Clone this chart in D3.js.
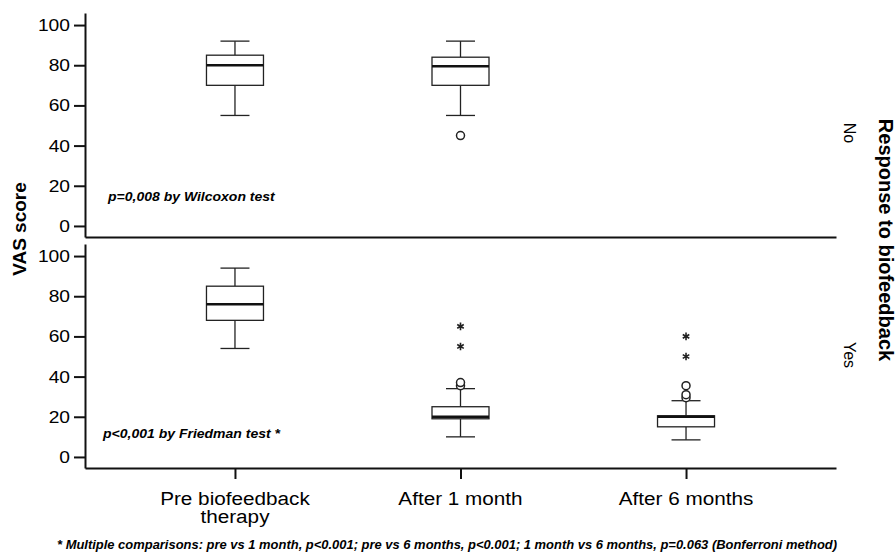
<!DOCTYPE html>
<html>
<head>
<meta charset="utf-8">
<script src="https://cdn.jsdelivr.net/npm/d3@7"></script>
<style>
  body { margin: 0; background: #fff; }
  text { font-family: "Liberation Sans", Arial, sans-serif; fill: #000; }
</style>
</head>
<body>
<svg id="chart" width="896" height="554"></svg>
<script>
const categories = ["pre", "1m", "6m"];
const categoryLabels = [["Pre biofeedback", "therapy"], ["After 1 month"], ["After 6 months"]];
const responses = ["No", "Yes"];
const yTicks = [0, 20, 40, 60, 80, 100];

// [min, q1, median, q3, max] for each time point
const boxesNo = [[55, 70, 80, 85, 92], [55, 70, 79.5, 84, 92]];
const boxesYes = [[54, 68, 76, 85, 94], [10, 19, 20, 25, 34], [8.5, 15, 20, 20.5, 28]];
const outliersNo = [[], [45]];
const outliersYes = [[], [35.5, 37], [29.5, 31, 35.5]];
const extremesNo = [[], []];
const extremesYes = [[], [55, 65], [50, 60]];

const pTexts = ["p=0,008 by Wilcoxon test", "p<0,001 by Friedman test *"];
const footnote = "* Multiple comparisons: pre vs 1 month, p<0.001; pre vs 6 months, p<0.001; 1 month vs 6 months, p=0.063 (Bonferroni method)";

const panels = [
  { boxes: boxesNo, outliers: outliersNo, extremes: extremesNo, top: 13 },
  { boxes: boxesYes, outliers: outliersYes, extremes: extremesYes, top: 244 },
];

const left = 85;
const right = 836;
const panelHeight = 224;
const boxWidth = 57;
const capWidth = 29;

const svg = d3.select("#chart");

// horizontal text in the source is drawn wider than the font's natural width
function stretch(sel, k) {
  sel.each(function () {
    const w = this.getComputedTextLength();
    this.setAttribute("textLength", w * k);
    this.setAttribute("lengthAdjust", "spacingAndGlyphs");
  });
}

const x = d3.scalePoint().domain(categories).range([left, right]).padding(0.665);

panels.forEach((p, pi) => {
  const y = d3.scaleLinear().domain([-5.5, 106]).range([p.top + panelHeight, p.top]);
  const bottom = p.top + panelHeight;
  const isLast = pi === panels.length - 1;

  // y axis
  const yAxisG = svg
    .append("g")
    .attr("transform", `translate(${left},0)`)
    .call(d3.axisLeft(y).tickValues(yTicks).tickSize(11).tickSizeOuter(0).tickPadding(4));
  yAxisG.selectAll("path, line").attr("stroke", "#111").attr("stroke-width", 2);
  yAxisG.selectAll("text").style("font-size", "17px").attr("fill", "#000");
  stretch(yAxisG.selectAll("text"), 1.13);

  // x axis (ticks only on the bottom panel)
  const xAxisG = svg
    .append("g")
    .attr("transform", `translate(0,${bottom})`)
    .call(d3.axisBottom(x).tickSize(isLast ? 11 : 0).tickSizeOuter(0).tickFormat(""));
  xAxisG.selectAll("path, line").attr("stroke", "#111").attr("stroke-width", 2);

  // boxes
  p.boxes.forEach((b, i) => {
    const cx = x(categories[i]);
    const [mn, q1, med, q3, mx] = b;
    const g = svg.append("g").attr("stroke", "#222").attr("stroke-width", 1.3).attr("fill", "none");
    g.append("line").attr("x1", cx).attr("x2", cx).attr("y1", y(mx)).attr("y2", y(q3));
    g.append("line").attr("x1", cx).attr("x2", cx).attr("y1", y(q1)).attr("y2", y(mn));
    g.append("line").attr("x1", cx - capWidth / 2).attr("x2", cx + capWidth / 2).attr("y1", y(mx)).attr("y2", y(mx));
    g.append("line").attr("x1", cx - capWidth / 2).attr("x2", cx + capWidth / 2).attr("y1", y(mn)).attr("y2", y(mn));
    g.append("rect")
      .attr("x", cx - boxWidth / 2)
      .attr("y", y(q3))
      .attr("width", boxWidth)
      .attr("height", y(q1) - y(q3))
      .attr("fill", "#fff");
    g.append("line")
      .attr("x1", cx - boxWidth / 2)
      .attr("x2", cx + boxWidth / 2)
      .attr("y1", y(med))
      .attr("y2", y(med))
      .attr("stroke", "#111")
      .attr("stroke-width", 2.5);

    p.outliers[i].forEach((v) => {
      svg.append("circle")
        .attr("cx", cx)
        .attr("cy", y(v))
        .attr("r", 4)
        .attr("fill", "#fff")
        .attr("stroke", "#222")
        .attr("stroke-width", 1.5);
    });

    p.extremes[i].forEach((v) => {
      svg.append("path")
        .attr("transform", `translate(${cx},${y(v)})`)
        .attr("d", d3.symbol(d3.symbolAsterisk, 40)())
        .attr("fill", "none")
        .attr("stroke", "#222")
        .attr("stroke-width", 1.6);
    });
  });

  // test annotation
  const pt = svg
    .append("text")
    .attr("x", pi === 0 ? 108 : 103)
    .attr("y", pi === 0 ? 201 : 438)
    .style("font-size", "12.5px")
    .style("font-weight", "bold")
    .style("font-style", "italic")
    .text(pTexts[pi]);
  stretch(pt, 1.12);

  // panel label on the right
  svg
    .append("text")
    .attr("transform", `translate(850,${pi === 0 ? 133 : 355}) rotate(90)`)
    .attr("text-anchor", "middle")
    .attr("dy", "0.35em")
    .style("font-size", "16px")
    .text(responses[pi]);
});

// category labels
categoryLabels.forEach((lines, i) => {
  lines.forEach((line, li) => {
    const t = svg
      .append("text")
      .attr("x", x(categories[i]))
      .attr("y", 505 + li * 18)
      .attr("text-anchor", "middle")
      .style("font-size", "18px")
      .text(line);
    stretch(t, 1.15);
  });
});

// axis titles
svg
  .append("text")
  .attr("transform", "translate(19,229) rotate(-90)")
  .attr("text-anchor", "middle")
  .attr("dy", "0.35em")
  .style("font-size", "19px")
  .style("font-weight", "bold")
  .text("VAS score");

svg
  .append("text")
  .attr("transform", "translate(886,240) rotate(90)")
  .attr("text-anchor", "middle")
  .attr("dy", "0.35em")
  .style("font-size", "20px")
  .style("font-weight", "bold")
  .text("Response to biofeedback");

// footnote
svg
  .append("text")
  .attr("x", 57)
  .attr("y", 549)
  .attr("textLength", 780)
  .attr("lengthAdjust", "spacingAndGlyphs")
  .style("font-size", "12px")
  .style("font-weight", "bold")
  .style("font-style", "italic")
  .text(footnote);
</script>
</body>
</html>
